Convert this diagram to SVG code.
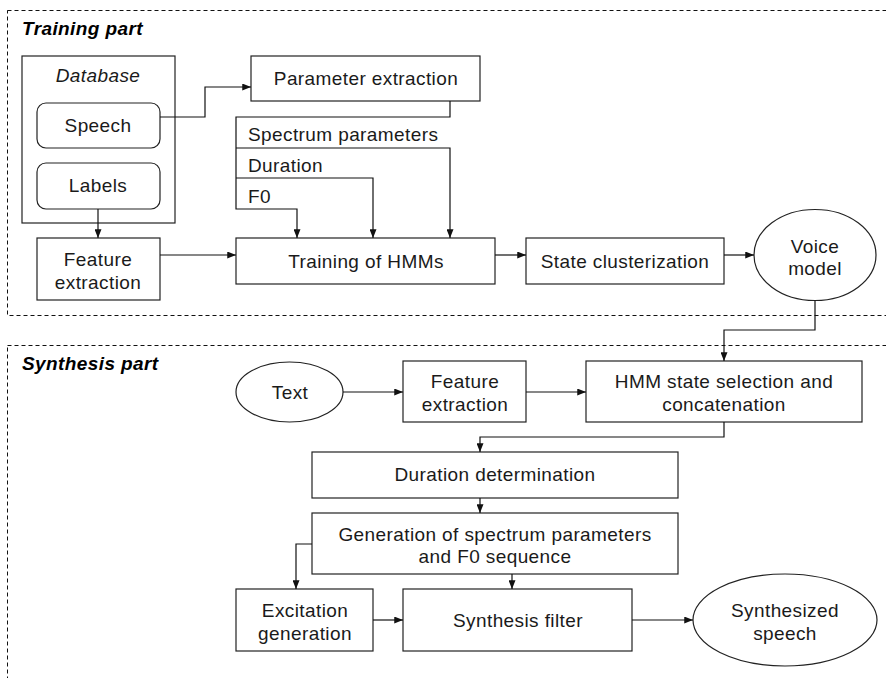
<svg xmlns="http://www.w3.org/2000/svg" width="886" height="678" viewBox="0 0 886 678">
<style>
.b{fill:#fff;stroke:#222;stroke-width:1.2}
.d{fill:none;stroke:#111;stroke-width:1;stroke-dasharray:4 3}
.c{fill:none;stroke:#111;stroke-width:1.2}
text{font-family:"Liberation Sans",Arial,sans-serif;font-size:19px;fill:#1a1a1a;letter-spacing:0.4px}
.m{text-anchor:middle}
.t{font-weight:bold;font-style:italic;fill:#000}
</style>
<defs>
<marker id="a" viewBox="0 0 10 8" refX="10" refY="4" markerWidth="9" markerHeight="7" markerUnits="userSpaceOnUse" orient="auto"><path d="M0,0 L10,4 L0,8 z" fill="#111"/></marker>
</defs>
<rect class="d" x="7.5" y="10.5" width="890" height="305"/>
<rect class="d" x="7.5" y="345.5" width="890" height="345"/>
<text class="t" x="22" y="35">Training part</text>
<text class="t" x="22" y="370">Synthesis part</text>
<g id="database"><rect class="b" x="22" y="56" width="153" height="167"/><text class="m" x="98" y="82" font-style="italic">Database</text></g>
<g id="speech"><rect class="b" x="37" y="103" width="123" height="45" rx="9"/><text class="m" x="98" y="132">Speech</text></g>
<g id="labels"><rect class="b" x="37" y="163" width="123" height="46" rx="9"/><text class="m" x="98" y="192">Labels</text></g>
<g id="param"><rect class="b" x="251" y="56" width="229" height="45"/><text class="m" x="366" y="85">Parameter extraction</text></g>
<g id="feat1"><rect class="b" x="37" y="238" width="123" height="62"/><text class="m" x="98" y="266">Feature</text><text class="m" x="98" y="289">extraction</text></g>
<g id="train"><rect class="b" x="236" y="238" width="259" height="46"/><text class="m" x="366" y="268">Training of HMMs</text></g>
<g id="cluster"><rect class="b" x="526" y="238" width="198" height="46"/><text class="m" x="625" y="268">State clusterization</text></g>
<g id="voice"><ellipse class="b" cx="815" cy="255" rx="61" ry="45.5"/><text class="m" x="815" y="253">Voice</text><text class="m" x="815" y="275">model</text></g>
<g id="text"><ellipse class="b" cx="289.5" cy="392" rx="53.5" ry="30"/><text class="m" x="290" y="399">Text</text></g>
<g id="feat2"><rect class="b" x="403" y="361" width="123" height="61"/><text class="m" x="465" y="388">Feature</text><text class="m" x="465" y="411">extraction</text></g>
<g id="hmm"><rect class="b" x="586" y="361" width="276" height="61"/><text class="m" x="724" y="388">HMM state selection and</text><text class="m" x="724" y="411">concatenation</text></g>
<g id="dur"><rect class="b" x="312" y="452" width="366" height="46"/><text class="m" x="495" y="481">Duration determination</text></g>
<g id="gen"><rect class="b" x="312" y="513" width="366" height="61"/><text class="m" x="495" y="541">Generation of spectrum parameters</text><text class="m" x="495" y="563">and F0 sequence</text></g>
<g id="exc"><rect class="b" x="236" y="589" width="137" height="62"/><text class="m" x="305" y="617">Excitation</text><text class="m" x="305" y="640">generation</text></g>
<g id="filter"><rect class="b" x="403" y="589" width="229" height="62"/><text class="m" x="518" y="627">Synthesis filter</text></g>
<g id="out"><ellipse class="b" cx="785" cy="620" rx="92" ry="46"/><text class="m" x="785" y="617">Synthesized</text><text class="m" x="785" y="640">speech</text></g>
<g id="labels-params">
<text x="248" y="141">Spectrum parameters</text>
<text x="248" y="172">Duration</text>
<text x="248" y="203">F0</text>
</g>
<g id="connectors">
<path class="c" d="M160,117 H205 V87 H251" marker-end="url(#a)"/>
<path class="c" d="M450,101 V117 H236 V209 H297 V238" marker-end="url(#a)"/>
<path class="c" d="M236,148 H450 V238" marker-end="url(#a)"/>
<path class="c" d="M236,178 H373 V238" marker-end="url(#a)"/>
<path class="c" d="M98,209 V238" marker-end="url(#a)"/>
<path class="c" d="M160,255 H236" marker-end="url(#a)"/>
<path class="c" d="M495,255 H526" marker-end="url(#a)"/>
<path class="c" d="M724,255 H754" marker-end="url(#a)"/>
<path class="c" d="M815,300.5 V330 H724 V361" marker-end="url(#a)"/>
<path class="c" d="M343,392 H403" marker-end="url(#a)"/>
<path class="c" d="M526,392 H586" marker-end="url(#a)"/>
<path class="c" d="M724,422 V437 H480 V452" marker-end="url(#a)"/>
<path class="c" d="M480,498 V513" marker-end="url(#a)"/>
<path class="c" d="M312,544 H296 V589" marker-end="url(#a)"/>
<path class="c" d="M512,574 V589" marker-end="url(#a)"/>
<path class="c" d="M373,620 H403" marker-end="url(#a)"/>
<path class="c" d="M632,620 H693" marker-end="url(#a)"/>
</g>
</svg>
